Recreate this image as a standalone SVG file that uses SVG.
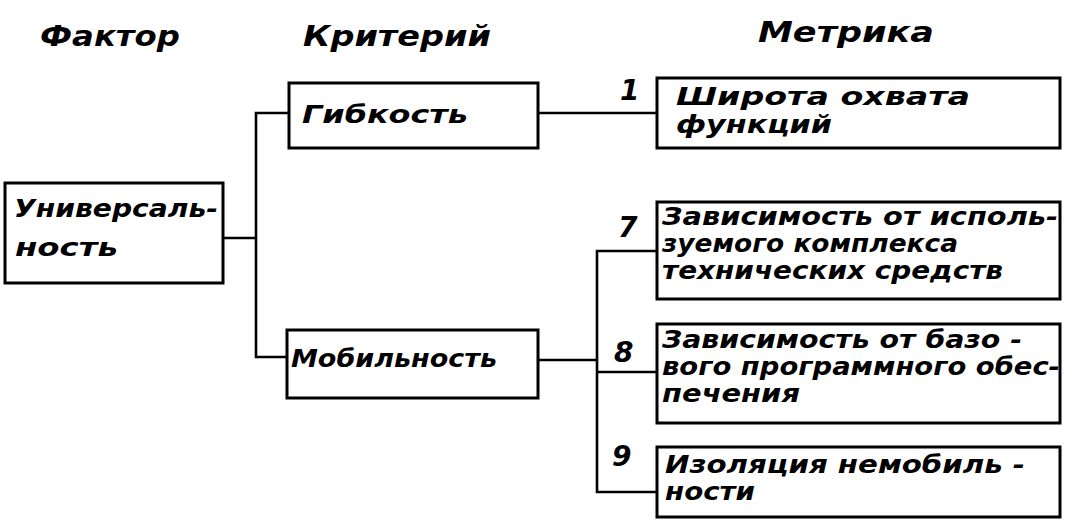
<svg xmlns="http://www.w3.org/2000/svg" width="1077" height="523" viewBox="0 0 1077 523">
<style>
.box{fill:#fff;stroke:#000;stroke-width:3}
.ln{fill:none;stroke:#000;stroke-width:2.6}
text{font-family:"DejaVu Sans","Liberation Sans",sans-serif;font-style:oblique;font-weight:bold;fill:#000}
.h{font-size:28px}
.t{font-size:25px}
.n{font-size:28px}
</style>
<rect width="1077" height="523" fill="#fff"/>
<g id="headers">
<text class="h" x="40" y="46" textLength="140" lengthAdjust="spacingAndGlyphs">Фактор</text>
<text class="h" x="303" y="46" textLength="188" lengthAdjust="spacingAndGlyphs">Критерий</text>
<text class="h" x="758" y="42" textLength="176" lengthAdjust="spacingAndGlyphs">Метрика</text>
</g>
<g id="connectors">
<polyline class="ln" points="223,238 256,238"/>
<polyline class="ln" points="289,113 256,113 256,357 287,357"/>
<polyline class="ln" points="538,113 657,113"/>
<polyline class="ln" points="538,360 597,360"/>
<polyline class="ln" points="657,251 597,251 597,492 657,492"/>
<polyline class="ln" points="597,372 657,372"/>
</g>
<g id="labels">
<text class="n" x="620" y="100">1</text>
<text class="n" x="618" y="237">7</text>
<text class="n" x="614" y="362">8</text>
<text class="n" x="612" y="466">9</text>
</g>
<g id="n-universality">
<rect class="box" x="5" y="183" width="218" height="100"/>
<text class="t" x="14" y="217" textLength="204" lengthAdjust="spacingAndGlyphs">Универсаль-</text>
<text class="t" x="15" y="256" textLength="103" lengthAdjust="spacingAndGlyphs">ность</text>
</g>
<g id="n-flexibility">
<rect class="box" x="289" y="83" width="249" height="65"/>
<text class="t" x="302" y="123" textLength="166" lengthAdjust="spacingAndGlyphs">Гибкость</text>
</g>
<g id="n-mobility">
<rect class="box" x="287" y="330" width="251" height="68"/>
<text class="t" x="291" y="367" textLength="206" lengthAdjust="spacingAndGlyphs">Мобильность</text>
</g>
<g id="m-1">
<rect class="box" x="657" y="78" width="403" height="70"/>
<text class="t" x="676" y="105" textLength="294" lengthAdjust="spacingAndGlyphs">Широта охвата</text>
<text class="t" x="676" y="133" textLength="156" lengthAdjust="spacingAndGlyphs">функций</text>
</g>
<g id="m-7">
<rect class="box" x="657" y="202" width="403" height="97"/>
<text class="t" x="662" y="225" textLength="396" lengthAdjust="spacingAndGlyphs">Зависимость от исполь-</text>
<text class="t" x="662" y="252" textLength="296" lengthAdjust="spacingAndGlyphs">зуемого комплекса</text>
<text class="t" x="662" y="279" textLength="341" lengthAdjust="spacingAndGlyphs">технических средств</text>
</g>
<g id="m-8">
<rect class="box" x="657" y="324" width="403" height="99"/>
<text class="t" x="662" y="348" textLength="360" lengthAdjust="spacingAndGlyphs">Зависимость от базо -</text>
<text class="t" x="662" y="375" textLength="398" lengthAdjust="spacingAndGlyphs">вого программного обес-</text>
<text class="t" x="662" y="402" textLength="138" lengthAdjust="spacingAndGlyphs">печения</text>
</g>
<g id="m-9">
<rect class="box" x="657" y="447" width="403" height="70"/>
<text class="t" x="665" y="473" textLength="360" lengthAdjust="spacingAndGlyphs">Изоляция немобиль -</text>
<text class="t" x="665" y="500" textLength="90" lengthAdjust="spacingAndGlyphs">ности</text>
</g>
</svg>
